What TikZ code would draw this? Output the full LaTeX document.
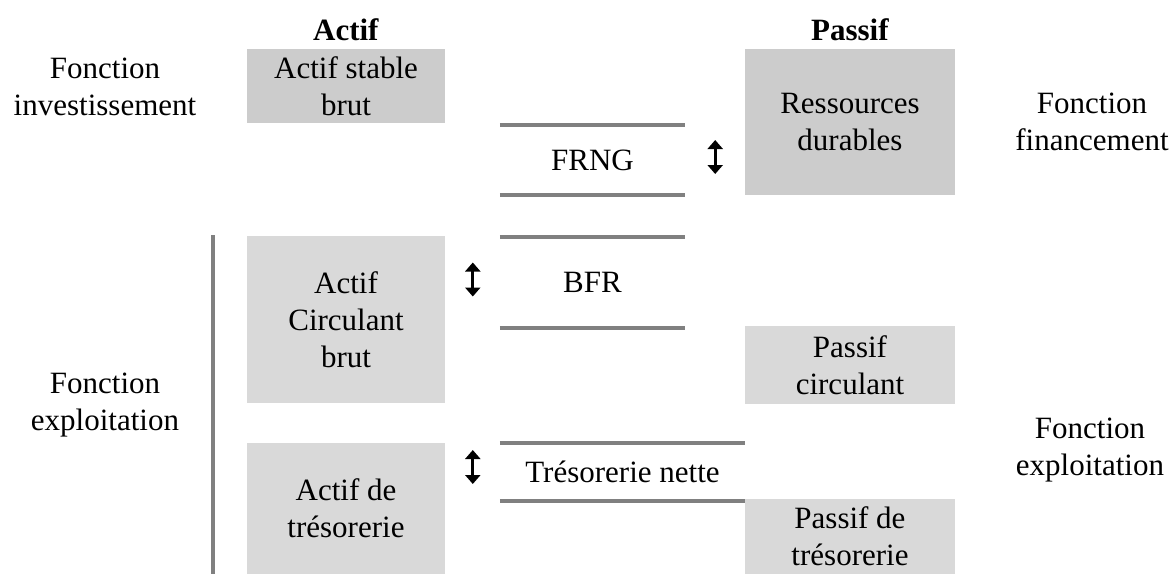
\documentclass[tikz,border=0pt]{standalone}
\usepackage{fontspec}
\setmainfont{Liberation Serif}
\usetikzlibrary{arrows.meta}

\definecolor{boxdark}{HTML}{CCCCCC}
\definecolor{boxlight}{HTML}{D9D9D9}
\definecolor{rulegray}{HTML}{808080}

\begin{document}
\begin{tikzpicture}[x=1pt, y=-1pt,
    every node/.style={font=\fontsize{31}{37}\selectfont, align=center, inner sep=0pt},
    bilan/.style={fill=#1, minimum width=198pt},
    passif/.style={fill=#1, minimum width=210pt},
    trait/.style={draw=rulegray, line width=3.5pt},
    fleche/.style={{Triangle[width=15pt,length=9pt]}-{Triangle[width=15pt,length=9pt]}, line width=3pt}]
  \useasboundingbox (0,0) rectangle (1176,574);

  % titres des colonnes
  \node (actif) at (346,30) {\textbf{Actif}};
  \node (passif) at (850,30) {\textbf{Passif}};

  % fonctions
  \node (finv) at (105,87) {Fonction\\investissement};
  \node (fexpg) at (105,405) {Fonction\\exploitation};
  \node (ffin) at (1092,122) {Fonction\\financement};
  \node (fexpd) at (1090,450) {Fonction\\exploitation};

  % actif
  \node[bilan=boxdark, minimum height=74pt] (stable) at (346,86) {Actif stable\\brut};
  \node[bilan=boxlight, minimum height=167pt] (circ) at (346,319.5) {Actif\\Circulant\\brut};
  \node[bilan=boxlight, minimum height=131pt] (treso) at (346,508.5) {Actif de\\trésorerie};

  % passif
  \node[passif=boxdark, minimum height=146pt] (durables) at (850,122) {Ressources\\durables};
  \node[passif=boxlight, minimum height=78pt] (pcirc) at (850,365) {Passif\\circulant};
  \node[passif=boxlight, minimum height=75pt] (ptreso) at (850,536.5) {Passif de\\trésorerie};

  % soldes
  \node[minimum width=185pt, minimum height=70pt] (frng) at (592.5,160) {FRNG};
  \node[minimum width=185pt, minimum height=91pt] (bfr) at (592.5,282.5) {BFR};
  \node[minimum width=245pt, minimum height=58pt] (tn) at (622.5,472) {Trésorerie nette};

  \draw[trait] (frng.north west) -- (frng.north east);
  \draw[trait] (frng.south west) -- (frng.south east);
  \draw[trait] (bfr.north west) -- (bfr.north east);
  \draw[trait] (bfr.south west) -- (bfr.south east);
  \draw[trait] (tn.north west) -- (tn.north east);
  \draw[trait] (tn.south west) -- (tn.south east);

  % fleches
  \draw[fleche] ([xshift=30pt,yshift=20pt]frng.east) -- ([xshift=30pt,yshift=-14pt]frng.east);
  \draw[fleche] ([xshift=-27pt,yshift=20pt]bfr.west) -- ([xshift=-27pt,yshift=-14pt]bfr.west);
  \draw[fleche] ([xshift=-27pt,yshift=22pt]tn.west) -- ([xshift=-27pt,yshift=-12pt]tn.west);

  % accolade exploitation
  \coordinate (vhaut) at (213,235);
  \coordinate (vbas) at (213,574);
  \draw[trait] (vhaut) -- (vbas);
\end{tikzpicture}
\end{document}
